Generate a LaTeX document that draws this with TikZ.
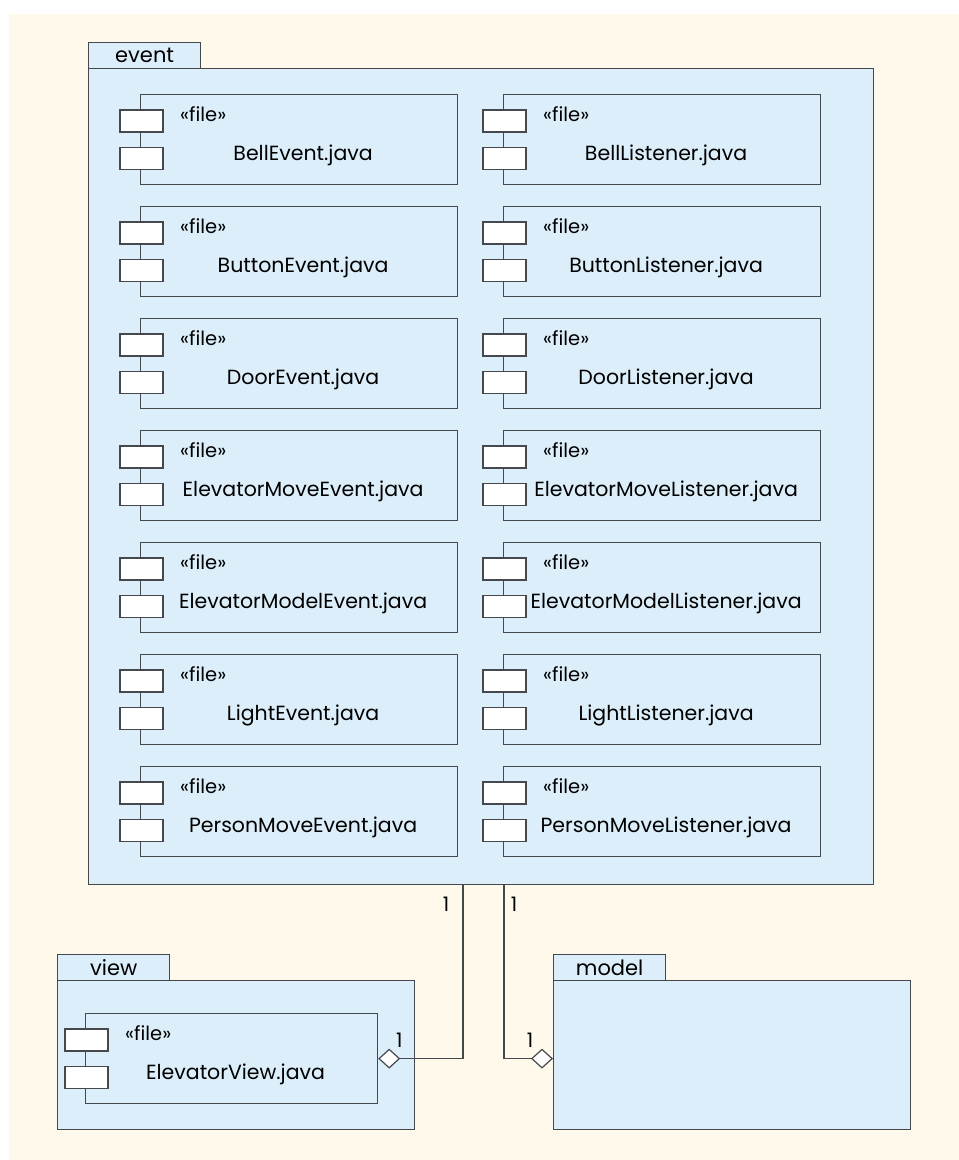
\documentclass[tikz,border=0pt]{standalone}
\usepackage{fontspec}
\setmainfont{Poppins}
\usetikzlibrary{positioning,arrows.meta}

\definecolor{pkgblue}{HTML}{DCEEFA}
\definecolor{paper}{HTML}{FEF9EB}
\definecolor{edge}{HTML}{45494D}

\tikzset{
    pkgbody/.style={draw=edge, fill=pkgblue, line width=1.3pt, inner sep=0pt, anchor=north west},
    pkgtab/.style={pkgbody, minimum width=112pt, minimum height=26pt, font=\fontsize{21}{21}\selectfont},
    comp/.style={draw=edge, fill=pkgblue, line width=1.2pt, inner sep=0pt, anchor=north west, minimum height=90pt},
    plug/.style={draw=edge, fill=white, line width=1.2pt, inner sep=0pt, minimum width=43pt, minimum height=22pt},
    stereo/.style={anchor=west, inner sep=0pt, font=\fontsize{19.5}{19.5}\selectfont},
    fname/.style={inner sep=0pt, font=\fontsize{20.5}{20.5}\selectfont},
    mult/.style={inner sep=0pt, font=\fontsize{20}{20}\selectfont},
    assoc/.style={draw=edge, line width=1.2pt, -{Diamond[length=22pt, width=20pt, fill=white]}}
}

% file component: [width] name, left, top, label
\newcommand{\filecomp}[5][317]{%
    \node[comp, minimum width=#1pt] (#2) at (#3,#4) {};
    \node[plug] (#2a) at ([xshift=1.5pt, yshift=-27pt]#2.north west) {};
    \node[plug] (#2b) at ([xshift=1.5pt, yshift=-64.5pt]#2.north west) {};
    \node[stereo] (#2s) at ([xshift=40pt, yshift=-20pt]#2.north west) {«file»};
    \node[fname] (#2n) at ([xshift=4pt, yshift=-61pt]#2.north) {#5};
}

\begin{document}
\begin{tikzpicture}[x=1pt, y=-1pt]
    % one unit is one pixel of the reference, y runs downwards
    \pgfmathsetmacro{\rowGap}{112}

    \useasboundingbox (0,0) rectangle (959,1160);
    \fill[paper] (9,14) rectangle (959,1160);

    % event package
    \node[pkgtab] (eventtab) at (88,42) {event};
    \node[pkgbody, minimum width=785pt, minimum height=816pt] (event) at (88,68) {};

    \foreach \ev/\li [count=\i from 0] in {BellEvent/BellListener, ButtonEvent/ButtonListener,
        DoorEvent/DoorListener, ElevatorMoveEvent/ElevatorMoveListener,
        ElevatorModelEvent/ElevatorModelListener, LightEvent/LightListener,
        PersonMoveEvent/PersonMoveListener} {
        \pgfmathsetmacro{\rowY}{94+\rowGap*\i}
        \filecomp{ev\i}{140}{\rowY}{\ev.java}
        \filecomp{li\i}{503}{\rowY}{\li.java}
    }

    % view package
    \node[pkgtab] (viewtab) at (57,954) {view};
    \node[pkgbody, minimum width=357pt, minimum height=149pt] (view) at (57,980) {};
    \filecomp[292]{elevview}{85}{1013}{ElevatorView.java}

    % model package
    \node[pkgtab] (modeltab) at (553,954) {model};
    \node[pkgbody, minimum width=357pt, minimum height=149pt] (model) at (553,980) {};

    % associations
    \path (event.south west) ++(375,0) coordinate (evfootL);
    \path (event.south west) ++(416,0) coordinate (evfootR);
    \draw[assoc] (evfootL) |- (elevview.east);
    \draw[assoc] (evfootR) |- (model.west |- elevview.east);

    \node[mult] (m1) at ([xshift=-17pt, yshift=-19pt]evfootL) {1};
    \node[mult] (m2) at ([xshift=10pt, yshift=-19pt]evfootR) {1};
    \node[mult] (m3) at ([xshift=21pt, yshift=18pt]elevview.east) {1};
    \node[mult] (m4) at ([xshift=-23pt, yshift=18pt]model.west |- elevview.east) {1};
\end{tikzpicture}
\end{document}
